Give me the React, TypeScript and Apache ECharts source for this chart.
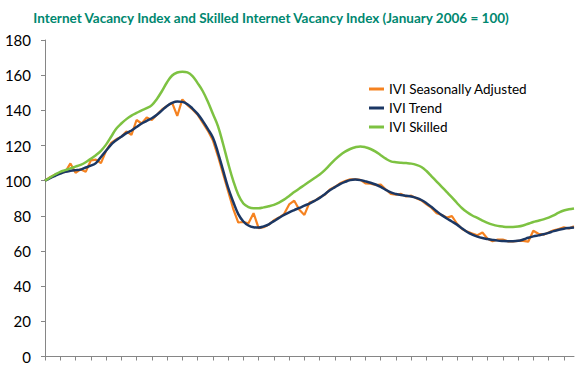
import React, { useEffect, useRef } from "react";
import * as echarts from "echarts";

const START_YEAR = 2006;
const MONTH_NAMES = ["Jan", "Feb", "Mar", "Apr", "May", "Jun", "Jul", "Aug", "Sep", "Oct", "Nov", "Dec"];

const iviSeasonallyAdjusted = [
  100, 102, 103.5, 104.5, 105, 109.8, 104.5, 106.5, 105, 111.5,
  112, 110, 117, 121.5, 123.5, 125, 128, 126, 134.5, 132.5,
  136, 134.5, 137.5, 140.5, 142.5, 144.3, 136.8, 146.2, 143, 140.5,
  137.5, 133, 128.5, 123, 114, 104, 94, 84, 76.2, 76.5,
  75.8, 81.5, 73, 73.5, 75, 77.5, 79, 81, 86.5, 88.6,
  83.5, 80.5, 87.5, 88.5, 90.5, 92, 95, 96.5, 98.5, 99.8,
  100.8, 100.8, 100.5, 98.5, 98.3, 97.5, 97.8, 95, 92.5, 92,
  92.5, 91, 91.5, 90, 88.8, 86.5, 84.5, 81.5, 80.5, 79,
  79.8, 75.5, 72.5, 71, 70, 69, 70.5, 67, 65.5, 66.5,
  66.5, 65.5, 65.5, 65.8, 65.8, 65.3, 71.5, 69.8, 69.3, 70.5,
  71.8, 72.5, 73.5, 72.8, 74,
];

const iviTrend = [
  100, 101.5, 102.8, 104, 105, 105.6, 106, 106.3, 107.5, 108.5,
  110, 113.5, 117, 120.5, 123, 125, 127, 128.5, 130.5, 132.5,
  134, 135.5, 137.5, 140, 142.5, 144.2, 145, 144.8, 143.5, 141,
  138, 134, 129.5, 124.5, 116, 106, 96, 88, 81, 76.8,
  74.5, 73.5, 73.3, 74, 75.2, 77, 78.8, 80.5, 82, 83.3,
  84.5, 85.8, 87, 88.5, 90.2, 92.3, 94.5, 96.3, 98, 99.3,
  100.3, 100.6, 100.3, 99.6, 98.8, 97.8, 96.5, 94.8, 93.3, 92.4,
  91.8, 91.4, 91, 90.2, 89, 87.2, 85, 82.6, 80.4, 78.5,
  76.8, 75, 72.8, 70.8, 69.3, 68.2, 67.4, 66.8, 66.3, 65.9,
  65.7, 65.6, 65.6, 65.8, 66.5, 67.5, 68.3, 68.9, 69.5, 70.3,
  71.3, 72.1, 72.7, 73.1, 73.4,
];

const iviSkilled = [
  100, 101.8, 103.5, 105, 106, 107, 108, 109, 110.5, 112.5,
  114.5, 117, 120.5, 125, 129.5, 132.5, 135, 137, 138.5, 140,
  141.2, 143, 146.5, 151, 156, 159.8, 161.5, 162, 161.6, 159.5,
  155.5, 151, 145, 138, 131, 121, 110, 100, 92, 87,
  85, 84.3, 84.3, 84.8, 85.4, 86.2, 87.5, 89.2, 91.3, 93.5,
  95.6, 97.5, 99.5, 101.5, 103.5, 106, 109, 112, 114.5, 116.5,
  118, 119, 119.5, 119, 118, 116.5, 114.5, 112.5, 111, 110.5,
  110.2, 110, 109.7, 109, 107.8, 105.5, 102.5, 99.5, 96.5, 93.5,
  90.5, 87.3, 84.3, 82, 80.2, 78.8, 77.3, 76, 75, 74.3,
  73.9, 73.7, 73.7, 73.9, 74.5, 75.5, 76.5, 77.2, 78, 79,
  80.3, 81.8, 83, 83.7, 84.2,
];

const categories: string[] = iviTrend.map(
  (_, i) => `${MONTH_NAMES[i % 12]} ${START_YEAR + Math.floor(i / 12)}`
);

const yTicks = [0, 20, 40, 60, 80, 100, 120, 140, 160, 180];

const seriesNames = ["IVI Seasonally Adjusted", "IVI Trend", "IVI Skilled"];
const colors = ["#F58220", "#1B3764", "#7DC242"];

export default function App() {
  const ref = useRef<HTMLDivElement>(null);

  useEffect(() => {
    if (!ref.current) return;
    const chart = echarts.init(ref.current, undefined, { renderer: "svg" });
    const font = "Lato, 'Open Sans', sans-serif";
    chart.setOption({
      animation: false,
      backgroundColor: "#ffffff",
      textStyle: { fontFamily: font },
      title: {
        text: "Internet Vacancy Index and Skilled Internet Vacancy Index (January 2006 = 100)",
        left: 266,
        textAlign: "center",
        top: 6,
        textStyle: {
          color: "#00876F",
          fontSize: 13.5,
          fontWeight: "bold",
          fontFamily: font,
        },
      },
      legend: {
        orient: "vertical",
        left: 364,
        top: 77,
        itemWidth: 15,
        itemHeight: 3,
        itemGap: 5,
        icon: "rect",
        data: seriesNames,
        textStyle: { fontSize: 13.5, color: "#000", fontFamily: font },
      },
      grid: { left: 45, right: 10, top: 40, bottom: 8.5, containLabel: false },
      xAxis: {
        type: "category",
        data: categories,
        boundaryGap: false,
        axisLine: { lineStyle: { color: "#868686", width: 1 } },
        axisTick: { show: true, interval: 2, length: 4, lineStyle: { color: "#868686" } },
        axisLabel: { show: false },
        splitLine: { show: false },
      },
      yAxis: {
        type: "value",
        min: yTicks[0],
        max: yTicks[yTicks.length - 1],
        interval: yTicks[1] - yTicks[0],
        axisLine: { show: true, lineStyle: { color: "#868686", width: 1 } },
        axisTick: { show: true, length: 4, lineStyle: { color: "#868686" } },
        axisLabel: { color: "#000", fontSize: 15, margin: 14, fontFamily: font },
        splitLine: { show: false },
      },
      series: [
        {
          name: seriesNames[0],
          type: "line",
          data: iviSeasonallyAdjusted,
          showSymbol: false,
          lineStyle: { color: colors[0], width: 2.2 },
          itemStyle: { color: colors[0] },
        },
        {
          name: seriesNames[1],
          type: "line",
          data: iviTrend,
          smooth: 0.4,
          showSymbol: false,
          lineStyle: { color: colors[1], width: 2.5 },
          itemStyle: { color: colors[1] },
        },
        {
          name: seriesNames[2],
          type: "line",
          data: iviSkilled,
          smooth: 0.4,
          showSymbol: false,
          lineStyle: { color: colors[2], width: 2.5 },
          itemStyle: { color: colors[2] },
        },
      ],
    });
    return () => chart.dispose();
  }, []);

  return <div ref={ref} style={{ width: 584, height: 365, position: "absolute", left: 0, top: 0 }} />;
}
